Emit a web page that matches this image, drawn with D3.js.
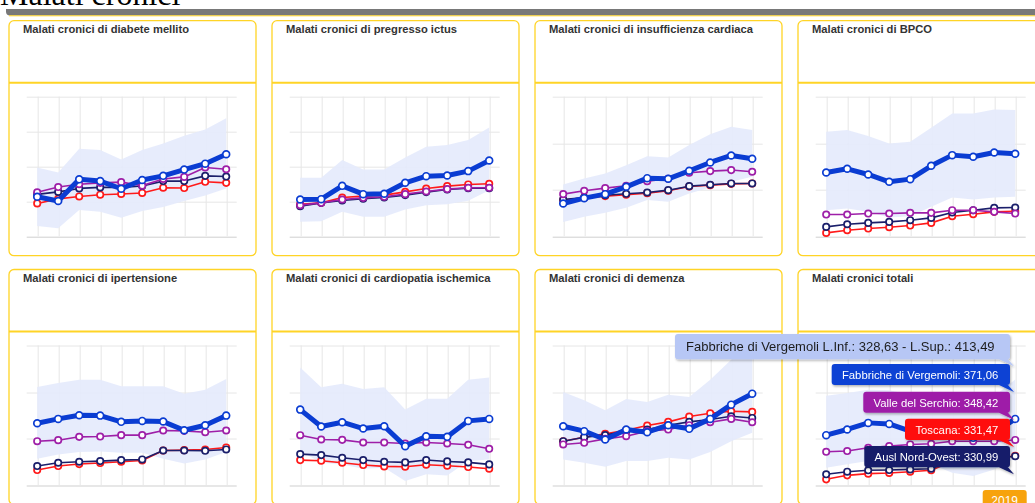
<!DOCTYPE html>
<html>
<head>
<meta charset="utf-8">
<script src="https://cdn.jsdelivr.net/npm/d3@7"></script>
<style>
  html, body { margin: 0; padding: 0; background: #fff; overflow: hidden; }
  svg { display: block; }
</style>
</head>
<body>
<svg id="chart" width="1035" height="503"></svg>
<script>
// ---------- DATA ----------
const years = [2010, 2011, 2012, 2013, 2014, 2015, 2016, 2017, 2018, 2019];

const panelTitles = [
  "Malati cronici di diabete mellito",
  "Malati cronici di pregresso ictus",
  "Malati cronici di insufficienza cardiaca",
  "Malati cronici di BPCO",
  "Malati cronici di ipertensione",
  "Malati cronici di cardiopatia ischemica",
  "Malati cronici di demenza",
  "Malati cronici totali"
];

// gridline values of each panel (no labels shown)
const yTicks = [
  [40, 50, 60, 70, 80],
  [10, 15, 20, 25, 30],
  [10, 15, 20, 25],
  [20, 40, 60, 80],
  [150, 200, 250, 300],
  [20, 30, 40, 50],
  [10, 15, 20, 25],
  [300, 350, 400, 450]
];

const seriesNames = ["Fabbriche di Vergemoli", "Valle del Serchio", "Toscana", "Ausl Nord-Ovest"];

// Fabbriche di Vergemoli (one row per panel)
const fabbriche = [
  [51.3, 50.1, 56.3, 55.8, 53.6, 56.1, 57.3, 59.1, 60.8, 63.5],
  [15.26, 15.31, 17.22, 16.03, 16.08, 17.66, 18.61, 18.71, 19.33, 20.86],
  [13.52, 14.09, 14.52, 15.31, 16.24, 16.17, 17.03, 17.93, 18.68, 18.33],
  [47.41, 48.99, 46.55, 43.39, 44.54, 50.28, 54.87, 54.16, 56.02, 55.45],
  [216.4, 221.1, 225.0, 224.6, 217.9, 218.9, 218.2, 208.9, 214.3, 224.6],
  [36.21, 32.57, 33.5, 32.14, 32.64, 28.36, 30.5, 30.36, 33.79, 34.21],
  [16.32, 15.79, 14.89, 15.96, 15.68, 16.43, 16.04, 17.11, 18.64, 19.82],
  [353.6, 359.7, 366.8, 365.7, 357.9, 359.0, 357.9, 350.7, 356.1, 371.06]
];
// Fabbriche di Vergemoli lower / upper confidence limits
const fabbricheInf = [
  [42.9, 42.3, 47.5, 47.0, 45.3, 47.2, 48.4, 50.1, 51.7, 53.7],
  [12.06, 12.15, 13.49, 12.78, 12.78, 13.83, 14.45, 14.59, 15.07, 16.60],
  [11.54, 12.08, 12.51, 13.05, 13.88, 13.70, 14.59, 15.24, 15.85, 16.39],
  [31.18, 31.90, 30.47, 28.03, 28.60, 32.62, 36.64, 35.78, 36.64, 36.93],
  [178.2, 182.9, 185.4, 186.1, 184.6, 184.6, 178.2, 173.2, 177.5, 185.4],
  [27.29, 24.79, 24.43, 23.5, 23.71, 20.86, 22.29, 22.07, 25.14, 25.5],
  [12.75, 12.39, 11.96, 12.57, 12.57, 12.93, 12.75, 13.54, 14.71, 15.61],
  [318.6, 322.2, 325.7, 325.7, 322.2, 322.2, 313.3, 309.7, 316.8, 328.63]
];
const fabbricheSup = [
  [59.7, 58.3, 65.1, 64.7, 62.0, 64.7, 66.6, 68.8, 70.6, 73.8],
  [18.37, 18.37, 20.91, 19.57, 19.57, 21.29, 22.82, 23.06, 23.78, 25.60],
  [15.56, 16.21, 16.75, 17.64, 18.61, 18.47, 19.80, 20.95, 21.77, 21.41],
  [64.92, 65.64, 63.06, 59.90, 60.62, 66.65, 72.82, 72.82, 74.54, 74.26],
  [255.4, 259.6, 263.2, 263.2, 256.1, 256.1, 256.1, 248.2, 252.5, 263.9],
  [45.29, 41.0, 41.79, 40.64, 41.0, 36.21, 38.57, 38.57, 42.64, 43.14],
  [20.0, 19.11, 18.04, 19.25, 18.93, 19.71, 19.46, 21.32, 23.46, 24.89],
  [396.1, 399.0, 402.5, 401.8, 397.1, 397.1, 397.1, 391.8, 395.4, 413.49]
];
const valleSerchio = [
  [52.6, 54.1, 54.9, 55.3, 55.5, 54.5, 56.4, 57.0, 59.7, 59.2],
  [14.45, 14.78, 15.26, 15.50, 15.65, 16.03, 16.41, 16.75, 16.94, 16.94],
  [14.52, 14.88, 15.17, 15.42, 15.92, 16.17, 16.82, 17.00, 17.11, 16.93],
  [29.32, 29.32, 29.75, 29.75, 30.04, 30.04, 31.18, 31.18, 30.47, 29.75],
  [197.1, 198.2, 201.8, 202.1, 203.6, 203.6, 208.6, 208.2, 206.8, 208.6],
  [30.71, 29.79, 29.71, 29.14, 29.14, 28.93, 29.14, 28.93, 28.64, 27.79],
  [14.36, 14.54, 14.96, 15.25, 15.79, 15.96, 16.43, 16.75, 17.11, 16.75],
  [335.7, 336.5, 340.0, 341.8, 343.6, 344.3, 347.1, 347.1, 347.1, 348.42]
];
const toscana = [
  [49.4, 50.7, 51.4, 51.9, 52.1, 52.4, 53.9, 53.8, 55.6, 55.3],
  [14.59, 14.78, 15.55, 15.74, 15.89, 16.36, 16.84, 17.18, 17.42, 17.51],
  [13.88, 14.13, 14.31, 14.45, 14.63, 14.88, 15.35, 15.49, 15.63, 15.67],
  [21.42, 22.57, 23.29, 23.86, 24.58, 25.73, 28.60, 29.46, 30.47, 30.75],
  [166.1, 170.4, 172.5, 173.6, 175.0, 176.4, 187.1, 187.5, 188.2, 190.4],
  [25.36, 25.21, 24.79, 24.29, 24.0, 23.93, 24.36, 24.14, 23.86, 23.5],
  [14.71, 15.14, 15.5, 15.89, 16.39, 16.79, 17.36, 17.71, 17.93, 17.86],
  [306.1, 310.4, 312.2, 312.9, 314.3, 315.8, 325.4, 326.8, 328.3, 331.47]
];
const auslNordOvest = [
  [52.0, 52.7, 53.7, 54.0, 54.0, 54.4, 55.8, 55.8, 57.3, 57.1],
  [14.31, 14.78, 15.12, 15.36, 15.55, 15.89, 16.32, 16.70, 16.89, 16.89],
  [13.95, 14.16, 14.41, 14.56, 14.70, 14.95, 15.38, 15.53, 15.67, 15.67],
  [24.00, 25.15, 25.73, 26.16, 26.88, 27.88, 30.18, 31.18, 32.19, 32.33],
  [170.4, 173.9, 175.0, 175.7, 176.8, 177.5, 187.1, 187.1, 186.8, 188.2],
  [26.64, 26.43, 25.86, 25.36, 25.0, 24.86, 25.36, 25.07, 24.86, 24.43],
  [14.71, 15.14, 15.36, 15.79, 15.96, 16.43, 16.79, 17.04, 17.39, 17.21],
  [311.5, 314.3, 315.8, 316.1, 316.8, 317.5, 326.5, 327.5, 328.6, 330.99]
];

// ---------- STYLE ----------
const C = {
  blue: "#0a3cd2",
  purple: "#9e1fa8",
  red: "#ff1a1a",
  navy: "#1b1f6b",
  band: "#e4eafc",
  border: "#ffd426",
  grid: "#e6e6e6"
};

const svg = d3.select("#chart");
const defs = svg.append("defs");
const f = defs.append("filter").attr("id", "shadow").attr("x", "-10%").attr("y", "-30%").attr("width", "130%").attr("height", "180%");
f.append("feDropShadow").attr("dx", 1).attr("dy", 1.5).attr("stdDeviation", 1.2).attr("flood-color", "#000").attr("flood-opacity", 0.3);

// page header
svg.append("text").attr("x", 0).attr("y", 5)
  .attr("font-family", "'Liberation Serif', 'Times New Roman', serif")
  .attr("font-size", 32).attr("fill", "#000").text("Malati cronici");
svg.append("path")
  .attr("d", "M6,9 H1040 V15.5 H10 Q6,15.5 6,11.5 Z")
  .attr("fill", "#787878");
svg.append("line").attr("x1", 9).attr("x2", 1035).attr("y1", 15.8).attr("y2", 15.8)
  .attr("stroke", C.border).attr("stroke-width", 1);

// panels
const colX = [9, 272, 535, 798];
const rowY = [20.7, 269.5];
const panelW = 247, panelH = 235, headerH = 62;
const plotLeft = 17.7, plotW = 210, plotTop = 76, plotH = 139.5;

const x = d3.scalePoint().domain(years).range([0, plotW]).padding(0.5);

panelTitles.forEach((title, i) => {
  const px = colX[i % 4], py = rowY[Math.floor(i / 4)];
  const g = svg.append("g").attr("transform", `translate(${px},${py})`);

  g.append("rect").attr("x", 0).attr("y", 0).attr("width", panelW).attr("height", panelH)
    .attr("rx", 5).attr("fill", "#fff").attr("stroke", C.border).attr("stroke-width", 1.3);
  g.append("line").attr("x1", 0).attr("x2", panelW).attr("y1", headerH).attr("y2", headerH)
    .attr("stroke", C.border).attr("stroke-width", 2);
  g.append("text").attr("x", 14).attr("y", 12.6)
    .attr("font-family", "'Liberation Sans', Arial, sans-serif")
    .attr("font-size", 11.2).attr("font-weight", "bold").attr("fill", "#333")
    .text(title);

  const ticks = yTicks[i];
  const y = d3.scaleLinear().domain([ticks[0], ticks[ticks.length - 1]]).range([plotH, 0]);
  const p = g.append("g").attr("transform", `translate(${plotLeft},${plotTop})`);

  // horizontal gridlines
  p.append("g").selectAll("line").data(ticks).join("line")
    .attr("x1", 0).attr("x2", plotW)
    .attr("y1", d => Math.round(y(d)) + 0.5).attr("y2", d => Math.round(y(d)) + 0.5)
    .attr("stroke", (d, k) => k === 0 ? "#cfcfcf" : C.grid).attr("stroke-width", 1);
  // vertical gridlines
  p.append("g").selectAll("line").data(years).join("line")
    .attr("x1", d => Math.round(x(d)) + 0.5).attr("x2", d => Math.round(x(d)) + 0.5)
    .attr("y1", 0).attr("y2", plotH)
    .attr("stroke", "#e6e6e6").attr("stroke-width", 1);

  // confidence band
  const band = years.map((yr, k) => ({ yr, lo: fabbricheInf[i][k], hi: fabbricheSup[i][k] }));
  p.append("path").datum(band)
    .attr("d", d3.area().x(d => x(d.yr)).y0(d => y(d.lo)).y1(d => y(d.hi)))
    .attr("fill", C.band).attr("fill-opacity", 0.9);

  const series = [
    { vals: toscana[i], color: C.red, w: 1.6, r: 3.2 },
    { vals: auslNordOvest[i], color: C.navy, w: 1.6, r: 3.2 },
    { vals: valleSerchio[i], color: C.purple, w: 1.6, r: 3.2 },
    { vals: fabbriche[i], color: C.blue, w: 5, r: 3.4 }
  ];
  const line = d3.line().x(d => x(d.yr)).y(d => y(d.v));
  series.forEach(s => {
    const pts = years.map((yr, k) => ({ yr, v: s.vals[k] }));
    p.append("path").datum(pts).attr("d", line)
      .attr("fill", "none").attr("stroke", s.color).attr("stroke-width", s.w)
      .attr("stroke-linejoin", "round");
    p.append("g").selectAll("circle").data(pts).join("circle")
      .attr("cx", d => x(d.yr)).attr("cy", d => y(d.v)).attr("r", s.r)
      .attr("fill", "#fff").attr("stroke", s.color).attr("stroke-width", 1.7);
  });
});

// ---------- tooltips on last panel, year 2019 ----------
const fmt = v => d3.format(".2f")(v).replace(".", ",");
const last = 9, P = 7;
const tips = [
  { x: 675, y: 334, w: 335, h: 25.3, bg: "#b7c7f5", fg: "#1d1d1d", size: 13, anchor: "start", tx: 686, ty: 350.7,
    text: `${seriesNames[0]} L.Inf.: ${fmt(fabbricheInf[P][last])} - L.Sup.: ${fmt(fabbricheSup[P][last])}` },
  { x: 831.7, y: 364, w: 178.3, h: 21, bg: "#0c42d4", fg: "#fff", size: 11.3, anchor: "end", tx: 998.3, ty: 379,
    text: `${seriesNames[0]}: ${fmt(fabbriche[P][last])}` },
  { x: 863.3, y: 391.7, w: 146.7, h: 21, bg: "#9e1fa8", fg: "#fff", size: 11.3, anchor: "end", tx: 998.3, ty: 406.7,
    text: `${seriesNames[1]}: ${fmt(valleSerchio[P][last])}` },
  { x: 905, y: 418.7, w: 105, h: 21.3, bg: "#ff0a0a", fg: "#fff", size: 11.3, anchor: "end", tx: 998.3, ty: 434,
    text: `${seriesNames[2]}: ${fmt(toscana[P][last])}` },
  { x: 864.3, y: 446, w: 145.7, h: 21.3, bg: "#141a6b", fg: "#fff", size: 11.3, anchor: "end", tx: 998.3, ty: 461,
    text: `${seriesNames[3]}: ${fmt(auslNordOvest[P][last])}` }
];
const tg = svg.append("g");
tips.forEach(t => {
  const g = tg.append("g").attr("filter", "url(#shadow)");
  const r = t.x + t.w, b = t.y + t.h;
  g.append("path")
    .attr("d", `M${t.x + 3},${t.y} H${r - 3} Q${r},${t.y} ${r},${t.y + 3} V${b - 3} Q${r},${b} ${r - 3},${b}
      L${r - 2},${b} L${r + 4},${b + 7} L${r - 11},${b} H${t.x + 3} Q${t.x},${b} ${t.x},${b - 3} V${t.y + 3} Q${t.x},${t.y} ${t.x + 3},${t.y} Z`)
    .attr("fill", t.bg);
  g.append("text").attr("x", t.tx).attr("y", t.ty).attr("text-anchor", t.anchor)
    .attr("font-family", "'Liberation Sans', Arial, sans-serif").attr("font-size", t.size)
    .attr("fill", t.fg).text(t.text);
});

// year label
svg.append("rect").attr("x", 982.7).attr("y", 490).attr("width", 44).attr("height", 22).attr("rx", 3)
  .attr("fill", "#f7a30c");
svg.append("text").attr("x", 1004.7).attr("y", 505).attr("text-anchor", "middle")
  .attr("font-family", "'Liberation Sans', Arial, sans-serif").attr("font-size", 12)
  .attr("fill", "#fff").text(years[last]);
</script>
</body>
</html>
